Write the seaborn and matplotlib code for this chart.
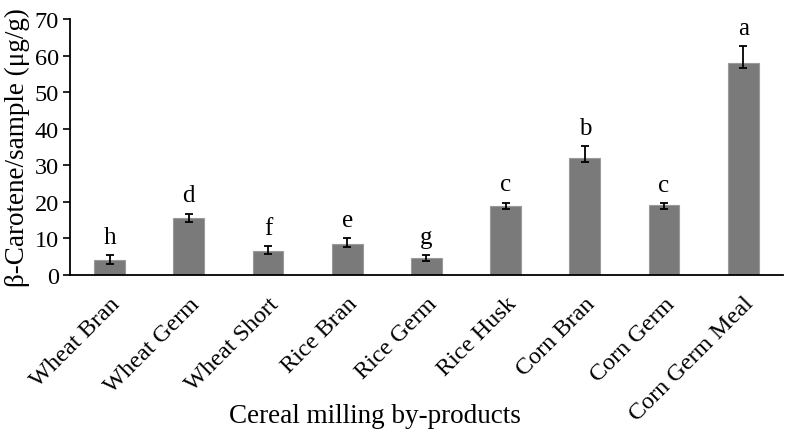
import numpy as np
import pandas as pd
import matplotlib
matplotlib.use("Agg")
import matplotlib.pyplot as plt
import seaborn as sns

# Данные
categories = ["Wheat Bran", "Wheat Germ", "Wheat Short", "Rice Bran", "Rice Germ",
              "Rice Husk", "Corn Bran", "Corn Germ", "Corn Germ Meal"]
carotene = [4.1, 15.5, 6.5, 8.5, 4.6, 18.8, 31.9, 19.0, 57.9]
err_low = [1.1, 1.1, 0.9, 0.9, 0.9, 0.9, 1.1, 0.9, 1.2]
err_high = [1.3, 1.2, 1.4, 1.45, 0.7, 0.9, 3.3, 0.6, 4.6]
letters = ["h", "d", "f", "e", "g", "c", "b", "c", "a"]

df = pd.DataFrame({"product": categories, "value": carotene})

sns.set_style("white")
plt.rcParams["font.family"] = ["Liberation Serif", "DejaVu Serif"]
plt.rcParams["text.color"] = "black"
plt.rcParams["axes.labelcolor"] = "black"
plt.rcParams["xtick.color"] = "black"
plt.rcParams["ytick.color"] = "black"

fig, ax = plt.subplots(figsize=(7.86, 4.35), dpi=100)
fig.subplots_adjust(left=0.089, right=0.996, top=0.954, bottom=0.366)

sns.barplot(data=df, x="product", y="value", color="#7a7a7a", saturation=1,
            width=0.39, errorbar=None, edgecolor="#9a9a9a", linewidth=0.8, ax=ax)

xs = np.arange(len(categories))
ax.errorbar(xs, carotene, yerr=[err_low, err_high], fmt="none", ecolor="black",
            elinewidth=1.3, capsize=3.2, capthick=1.3, zorder=5)

for x, v, hi, lab in zip(xs, carotene, err_high, letters):
    ax.text(x, v + hi + 2.0, lab, ha="center", va="bottom", fontsize=18)

ax.set_ylim(0, 70)
ax.set_yticks(range(0, 71, 10))
ax.set_xlim(-0.5, len(categories) - 0.5)
ax.tick_params(axis="y", direction="out", length=5, width=1.2, labelsize=17.5,
               left=True, pad=3)
ax.tick_params(axis="x", length=0, labelsize=17.5, pad=13)
plt.setp(ax.get_xticklabels(), rotation=45, ha="right", rotation_mode="anchor")

ax.set_xlabel("Cereal milling by-products", fontsize=19.5, va="top")
ax.xaxis.set_label_coords(0.428, -0.5)
ax.set_ylabel("β-Carotene/sample (μg/g)", fontsize=19.5, labelpad=3)

sns.despine(ax=ax)
for s in ["left", "bottom"]:
    ax.spines[s].set_color("black")
    ax.spines[s].set_linewidth(1.3)

fig.savefig("out.png", dpi=100)
